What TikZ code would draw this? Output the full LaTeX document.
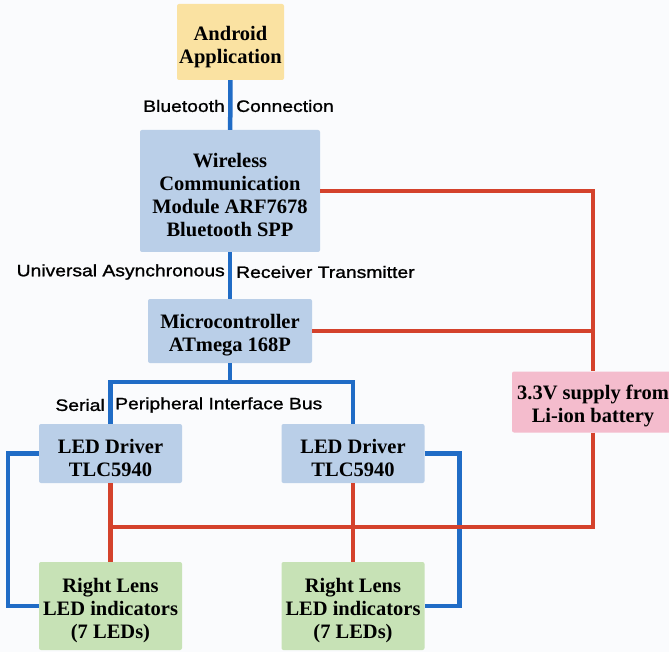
\documentclass[tikz,border=0pt]{standalone}
\usepackage{fontspec}
\setmainfont{Liberation Serif}
\newfontfamily\lblfont[FakeStretch=1.17,FakeBold=1.2]{Liberation Sans}
\definecolor{bgcol}{RGB}{250,251,253}
\definecolor{appcol}{RGB}{250,226,162}
\definecolor{modcol}{RGB}{186,207,232}
\definecolor{ledcol}{RGB}{199,226,182}
\definecolor{pwrcol}{RGB}{244,188,205}
\definecolor{buscol}{RGB}{32,108,198}
\definecolor{wirecol}{RGB}{212,66,44}
\newcommand{\topgap}{\rule{0pt}{23pt}}
\begin{document}
\begin{tikzpicture}[x=1pt,y=-1pt,
    box/.style={rectangle,rounded corners=2pt,align=center,inner sep=0pt,
      font=\fontsize{20.5}{23}\selectfont\bfseries},
    bus/.style={draw=buscol,line width=4.5pt},
    supply/.style={draw=wirecol,line width=4.5pt},
    lbl/.style={inner sep=0pt,font=\lblfont\fontsize{16.5}{19}\selectfont}]
    \clip (0,0) rectangle (669,652);
    \fill[bgcol] (0,0) rectangle (669,652);
    \node[box,fill=appcol,minimum width=107pt,minimum height=76pt] (app) at (230.5,42) {\rule{0pt}{25pt}Android\\Application};
    \node[box,fill=modcol,minimum width=180pt,minimum height=122pt] (wire) at (230,191) {\topgap Wireless\\Communication\\Module ARF7678\\Bluetooth SPP};
    \node[box,fill=modcol,minimum width=164pt,minimum height=64pt] (micro) at (230,331) {\topgap Microcontroller\\ATmega 168P};
    \node[box,fill=pwrcol,minimum width=162pt,minimum height=61pt] (pwr) at (593,402) {\topgap 3.3V supply from\\Li-ion battery};
    \node[box,fill=modcol,minimum width=143pt,minimum height=59pt] (drv1) at (110.5,453.5) {\topgap LED Driver\\TLC5940};
    \node[box,fill=modcol,minimum width=143pt,minimum height=59pt] (drv2) at (353,453.5) {\topgap LED Driver\\TLC5940};
    \node[box,fill=ledcol,minimum width=143pt,minimum height=88pt] (led1) at (110.5,606) {\topgap Right Lens\\LED indicators\\(7 LEDs)};
    \node[box,fill=ledcol,minimum width=143pt,minimum height=88pt] (led2) at (353,606) {\topgap Right Lens\\LED indicators\\(7 LEDs)};
    \coordinate (split) at (230,382);
    \coordinate (feed) at (110,527);
    % data lines
    \draw[bus] (app) -- (wire);
    \draw[bus] (wire) -- (micro);
    \draw[bus] (micro) -- (split);
    \draw[bus] (drv1.north) |- (split) -| (drv2.north);
    \draw[bus] (drv1.west) -- ++(-31,0) |- (led1.west);
    \draw[bus] (drv2.east) -- ++(35,0) |- (led2.east);
    % power lines
    \draw[supply] (wire.east) -| (pwr.north);
    \draw[supply] (micro.east) -- (micro.east -| pwr.north);
    \draw[supply] (pwr.south) |- (feed);
    \draw[supply] (drv1.south) -- (led1.north);
    \draw[supply] (drv2.south) -- (led2.north);
    \node[lbl,anchor=east] (bt1) at (225,106) {Bluetooth};
    \node[lbl,anchor=west] (bt2) at (236,106) {Connection};
    \node[lbl,anchor=east] (uart1) at (225,272) {Universal Asynchronous};
    \node[lbl,anchor=west] (uart2) at (236,272) {Receiver Transmitter};
    \node[lbl,anchor=east] (spi1) at (105,405) {Serial};
    \node[lbl,anchor=west] (spi2) at (115,405) {Peripheral Interface Bus};
\end{tikzpicture}
\end{document}
